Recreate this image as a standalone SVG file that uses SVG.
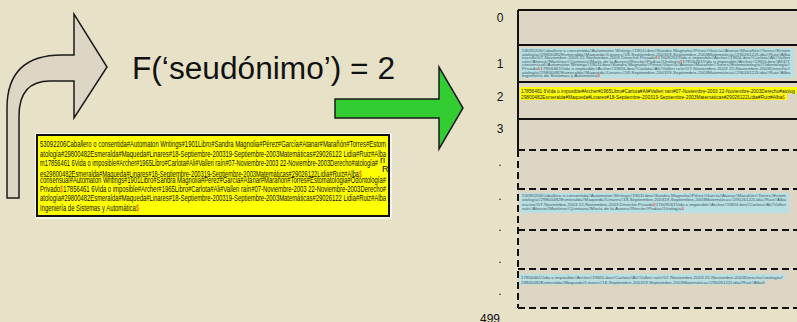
<svg xmlns="http://www.w3.org/2000/svg" width="797" height="322" viewBox="0 0 797 322">
  <defs>
    <style>
      .lbl { font-family: "Liberation Sans", Arial, sans-serif; font-size: 12px; fill: #111; }
      .rec { font-family: "Liberation Sans", Arial, sans-serif; font-size: 9px; fill: #111; }
      .tiny { font-family: "Liberation Sans", Arial, sans-serif; font-size: 3.9px; fill: #4b5a63; }
      .small { font-family: "Liberation Sans", Arial, sans-serif; font-size: 6.2px; fill: #222; }
      .dollar { fill: #e8531c; }
      .solid { stroke: #111; stroke-width: 2; fill: none; }
      .dash { stroke: #111; stroke-width: 2; fill: none; stroke-dasharray: 7 4; }
      .blue { fill: #b7dfe4; }
      .hl { fill: #ffff00; }
    </style>
  </defs>

  <!-- canvas -->
  <rect x="0" y="0" width="797" height="322" fill="#e7e2c7"/>

  <!-- arrows -->
  <g id="connectors">
    <path id="bent-arrow" d="M7,198 L7,108 Q7,55 62,55 L74,55 L74,14 L107,67 L74,118 L74,81 L50,81 Q19,81 19,116 L19,198 Z"
          fill="#ddd6c4" stroke="#1a1a1a" stroke-width="1.5" stroke-linejoin="miter"/>
    <path id="green-arrow" d="M335,99 L439,99 L439,67 L463,108 L439,149 L439,118 L335,118 Z"
          fill="#33cc33" stroke="#1a1a1a" stroke-width="1.5"/>
  </g>

  <!-- hash formula -->
  <g id="formula">
    <text x="132" y="79" font-family="Liberation Sans, Arial, sans-serif" font-size="31" fill="#111" textLength="263" lengthAdjust="spacingAndGlyphs">F(‘seudónimo’) = 2</text>
  </g>

  <!-- record block being stored -->
  <g id="record">
    <rect x="35" y="133" width="357" height="86" fill="#f4f4ee"/>
    <rect x="37" y="135" width="352" height="81" fill="#ffff00" stroke="#111" stroke-width="2"/>
    <text class="rec" x="40" y="147" textLength="346" lengthAdjust="spacingAndGlyphs">53092206Caballero o consentida#Automaton Writings#1901Libro#Sandra Magnolia#Pérez#García#Atanar#Marañón#Torres#Estom</text>
    <text class="rec" x="40" y="157" textLength="346" lengthAdjust="spacingAndGlyphs">atología#29800482Esmeralda#Maqueda#Linares#18-Septiembre-200319-Septiembre-2003Matemáticas#29026122 Lidia#Ruiz#Alba</text>
    <text class="rec" x="40" y="166" textLength="338" lengthAdjust="spacingAndGlyphs">m17856461 6Vida o imposible#Archer#1965Libro#Carlota#Ali#Valleri raín#07-Noviembre-2003 22-Noviembre-2003Derecho#atología#</text>
    <text class="rec" x="380" y="163" font-size="6">ri</text>
    <text class="rec" x="382" y="172" font-size="7">R</text>
    <text class="rec" x="40" y="176.5" textLength="322" lengthAdjust="spacingAndGlyphs">es29800482Esmeralda#Maqueda#Linares#18-Septiembre-200319-Septiembre-2003Matemáticas#29026122Lidia#Ruiz#Alba<tspan class="dollar">$</tspan></text>
    <text class="rec" x="40" y="182.5" font-size="5" textLength="346" lengthAdjust="spacingAndGlyphs">consensual#Automaton Writings#1901Libro#Sandra Magnolia#Pérez#García#Atanar#Marañón#Torres#Estomatología#Odontología#</text>
    <text class="rec" x="40" y="192" textLength="346" lengthAdjust="spacingAndGlyphs">Privado<tspan class="dollar">$</tspan>17856461 6Vida o imposible#Archer#1965Libro#Carlota#Ali#Valleri raín#07-Noviembre-2003 22-Noviembre-2003Derecho#</text>
    <text class="rec" x="40" y="201" textLength="346" lengthAdjust="spacingAndGlyphs">atología#29800482Esmeralda#Maqueda#Linares#18-Septiembre-200319-Septiembre-2003Matemáticas#29026122 Lidia#Ruiz#Alba</text>
    <text class="rec" x="40" y="211" textLength="99" lengthAdjust="spacingAndGlyphs">Ingeniería de Sistemas y Automática<tspan class="dollar">$</tspan></text>
  </g>

  <!-- bucket file -->
  <g id="bucket-file">
    <rect x="518" y="10" width="290" height="298" fill="#ddd6c4"/>
    <!-- solid buckets 0..3 -->
    <path class="solid" d="M518,10 L797,10 M518,10 L518,150 M518,45 L797,45 M518,82 L797,82 M518,119 L797,119"/>
    <!-- dashed overflow region -->
    <path class="dash" d="M518,150 L797,150 M518,189 L797,189 M518,230 L797,230 M518,269 L797,269 M518,308 L797,308 M518,150 L518,308"/>

    <!-- bucket labels -->
    <text class="lbl" x="500" y="22" text-anchor="middle">0</text>
    <text class="lbl" x="500" y="68" text-anchor="middle">1</text>
    <text class="lbl" x="500" y="101" text-anchor="middle">2</text>
    <text class="lbl" x="500" y="133" text-anchor="middle">3</text>
    <text class="lbl" x="500" y="166" text-anchor="middle">.</text>
    <text class="lbl" x="500" y="200" text-anchor="middle">.</text>
    <text class="lbl" x="500" y="231" text-anchor="middle">.</text>
    <text class="lbl" x="500" y="263" text-anchor="middle">.</text>
    <text class="lbl" x="500" y="295" text-anchor="middle">.</text>
    <text class="lbl" x="490" y="323" text-anchor="middle">499</text>

    <!-- bucket 1 contents -->
    <rect class="blue" x="520" y="48" width="274" height="30"/>
    <g class="tiny">
      <text x="522" y="52" textLength="268" lengthAdjust="spacingAndGlyphs">53092206Caballero o consentida#Automaton Writings#1901Libro#Sandra Magnolia#Pérez#García#Atanar#Marañón#Torres#Estom</text>
      <text x="522" y="55.6" textLength="268" lengthAdjust="spacingAndGlyphs">atología#29800482Esmeralda#Maqueda#Linares#18-Septiembre-200319-Septiembre-2003Matemáticas#29026122Lidia#Ruiz#Alba</text>
      <text x="522" y="59.2" textLength="268" lengthAdjust="spacingAndGlyphs">escrito#07-Noviembre-2003 22-Noviembre-2003 Derecho Privado<tspan class="dollar">$</tspan>17009261Vida o imposible#Archer#1965Libro#Carlota#Ali#Valleri</text>
      <text x="522" y="62.8" textLength="268" lengthAdjust="spacingAndGlyphs">raín#Alonso#Martínez#Quintana#María de la Aurora#Rincón#Padua#Urología<tspan class="dollar">$</tspan>17856461Vida o imposible#Archer#1965Libro#BDDT</text>
      <text x="522" y="66.4" textLength="268" lengthAdjust="spacingAndGlyphs">consensual#Automaton Writings#1901Libro#Sandra Magnolia#Pérez#García#Atanar#Marañón#Torres#Estomatología#Odontología#</text>
      <text x="522" y="70" textLength="268" lengthAdjust="spacingAndGlyphs">Privado<tspan class="dollar">$</tspan>17856461Vida o imposible#Archer#1965Libro#Carlota#Ali#Valleri raín#07-Noviembre-2003 22-Noviembre-2003Derecho#</text>
      <text x="522" y="73.6" textLength="268" lengthAdjust="spacingAndGlyphs">atología#29800482Esmeralda#Maqueda#Linares#18-Septiembre-200319-Septiembre-2003Matemáticas#29026122Lidia#Ruiz#Alba</text>
      <text x="522" y="77.2" textLength="78" lengthAdjust="spacingAndGlyphs">Ingeniería de Sistemas y Automática<tspan class="dollar">$</tspan></text>
    </g>

    <!-- bucket 2 contents -->
    <rect class="hl" x="520" y="87" width="277" height="6.5"/>
    <rect class="hl" x="520" y="93.5" width="267" height="6.5"/>
    <text class="small" x="521" y="92.5" textLength="274" lengthAdjust="spacingAndGlyphs">17856461 6Vida o imposible#Archer#1965Libro#Carlota#Ali#Valleri raín#07-Noviembre-2003 22-Noviembre-2003Derecho#atolog</text>
    <text class="small" x="521" y="99" textLength="264" lengthAdjust="spacingAndGlyphs">29800482Esmeralda#Maqueda#Linares#18-Septiembre-200319-Septiembre-2003Matemáticas#29026122Lidia#Ruiz#Alba<tspan class="dollar">$</tspan></text>

    <!-- overflow contents -->
    <rect class="blue" x="520" y="193" width="269" height="20"/>
    <g class="tiny">
      <text x="522" y="197" textLength="264" lengthAdjust="spacingAndGlyphs">53092206Caballero o consentida#Automaton Writings#1901Libro#Sandra Magnolia#Pérez#García#Atanar#Marañón#Torres#Estom</text>
      <text x="522" y="201.4" textLength="264" lengthAdjust="spacingAndGlyphs">atología#29800482Esmeralda#Maqueda#Linares#18-Septiembre-200319-Septiembre-2003Matemáticas#29026122Lidia#Ruiz#Alba</text>
      <text x="522" y="205.8" textLength="264" lengthAdjust="spacingAndGlyphs">escrito#07-Noviembre-2003 22-Noviembre-2003 Derecho Privado<tspan class="dollar">$</tspan>17009261Vida o imposible#Archer#1965Libro#Carlota#Ali#Valleri</text>
      <text x="522" y="210.2" textLength="162" lengthAdjust="spacingAndGlyphs">raín#Alonso#Martínez#Quintana#María de la Aurora#Rincón#Padua#Urología<tspan class="dollar">$</tspan></text>
    </g>

    <rect class="blue" x="519" y="274" width="266" height="5.5"/>
    <rect class="blue" x="519" y="279.5" width="248" height="5"/>
    <g class="tiny" font-size="4.4">
      <text x="521" y="278.5" textLength="262" lengthAdjust="spacingAndGlyphs">17856461Vida o imposible#Archer#1965Libro#Carlota#Ali#Valleri raín#07-Noviembre-2003 22-Noviembre-2003Derecho#atología#</text>
      <text x="521" y="283.8" textLength="244" lengthAdjust="spacingAndGlyphs">29800482Esmeralda#Maqueda#Linares#18-Septiembre-200319-Septiembre-2003Matemáticas#29026122Lidia#Ruiz#Alba<tspan class="dollar">$</tspan></text>
    </g>
  </g>
</svg>
